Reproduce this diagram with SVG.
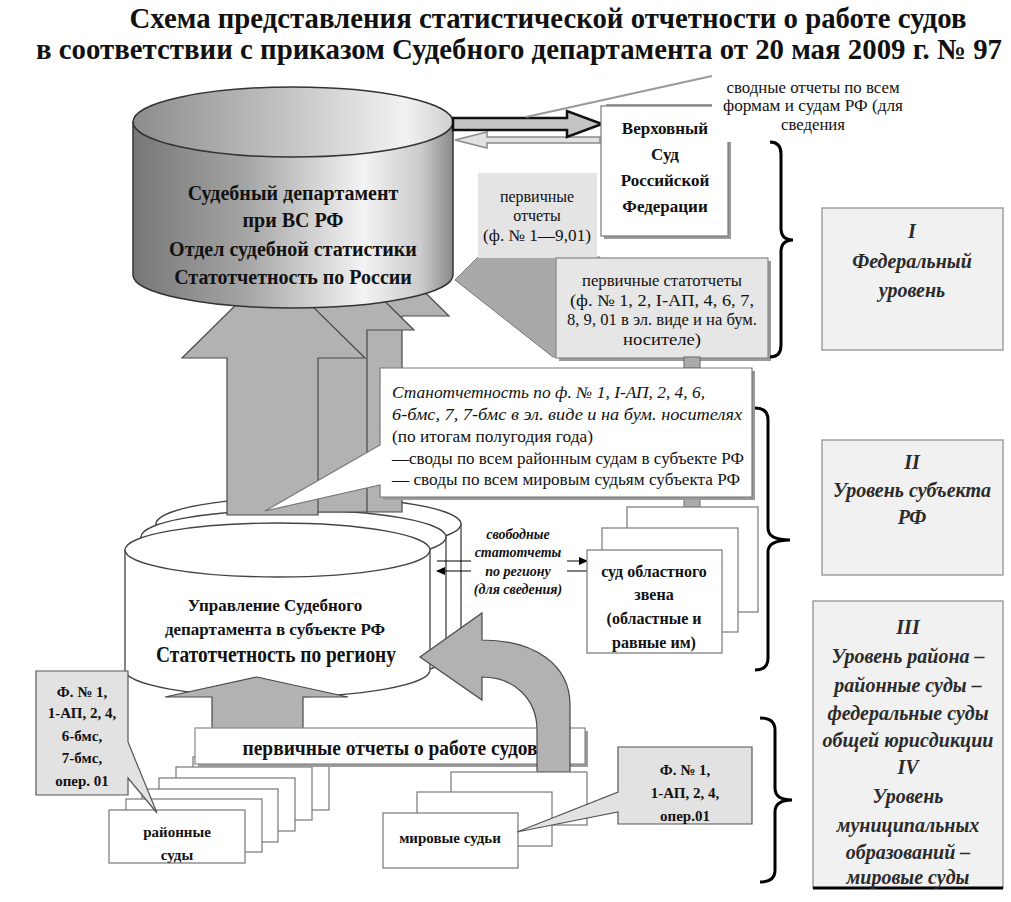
<svg xmlns="http://www.w3.org/2000/svg" width="1011" height="902" viewBox="0 0 1011 902" font-family="'Liberation Serif', 'Times New Roman', Tinos, 'DejaVu Serif', serif">
<defs>
<linearGradient id="gBody" x1="0" x2="1" y1="0" y2="0">
<stop offset="0" stop-color="#777"/><stop offset="0.35" stop-color="#a4a4a4"/><stop offset="0.72" stop-color="#f3f3f3"/><stop offset="0.9" stop-color="#cbcbcb"/><stop offset="1" stop-color="#8a8a8a"/>
</linearGradient>
<linearGradient id="gTop" x1="0" x2="1" y1="0" y2="0">
<stop offset="0" stop-color="#8c8c8c"/><stop offset="0.5" stop-color="#c6c6c6"/><stop offset="0.85" stop-color="#f2f2f2"/><stop offset="1" stop-color="#cfcfcf"/>
</linearGradient>
<marker id="ah" markerWidth="9" markerHeight="8" refX="8" refY="4" orient="auto" markerUnits="userSpaceOnUse"><path d="M0,0 L9,4 L0,8 Z" fill="#000"/></marker>
</defs>
<style>
text{font-family:'Liberation Serif','Times New Roman',Tinos,'DejaVu Serif',serif;fill:#111}
.b{font-weight:700}
.i{font-style:italic}
.c{text-anchor:middle}
.lvl{font-weight:700;font-style:italic;fill:#2b2b2b;font-size:20px;text-anchor:middle}
.box{fill:#fff;stroke:#777;stroke-width:1.2}
.grey{fill:#e2e2e2;stroke:#555;stroke-width:1.2}
.lbox{fill:#f1f1f1;stroke:#8a8a8a;stroke-width:1.2}
.arrow{fill:#b2b2b2;stroke:#4a4a4a;stroke-width:1.2}
.brace{fill:none;stroke:#000;stroke-width:3}
.shadow{fill:#9a9a9a}
.cyl{fill:#fff;stroke:#444;stroke-width:1.3}
</style>
<rect width="1011" height="902" fill="#fff"/>

<g id="title">
<text class="b c" x="548" y="28" font-size="29" textLength="837" lengthAdjust="spacingAndGlyphs">Схема представления статистической отчетности о работе судов</text>
<text class="b c" x="519" y="59" font-size="29" textLength="966" lengthAdjust="spacingAndGlyphs">в соответствии с приказом Судебного департамента от 20 мая 2009 г. № 97</text>
</g>

<g id="lower-cylinders">
<path class="cyl" d="M156,524 V644 A152.5,27 0 0 0 461,644 V524 Z"/>
<ellipse class="cyl" cx="308.5" cy="524" rx="152.5" ry="27"/>
<path class="cyl" d="M141,537 V657 A152.5,27 0 0 0 446,657 V537 Z"/>
<ellipse class="cyl" cx="293.5" cy="537" rx="152.5" ry="27"/>
</g>

<g id="connectors">
<polygon class="arrow" points="311,512 311,316 266,316 357.5,226 449,316 402,316 402,512"/>
<polygon class="arrow" points="276,512 276,330 231,330 322.5,240 414,330 367,330 367,512"/>
<polygon class="arrow" points="227,515 227,358 182,358 273.5,268 365,358 318,358 318,515"/>
<polygon fill="#a9a9a9" stroke="#777" stroke-width="1" points="478,257 600,257 600,357 553,357 455,280"/>
</g>

<g id="sd-cylinder">
<path d="M133,122 V275 A160,33 0 0 0 453,275 V122 Z" fill="url(#gBody)" stroke="#333" stroke-width="1.5"/>
<ellipse cx="293" cy="122" rx="160" ry="35" fill="url(#gTop)" stroke="#333" stroke-width="1.5"/>
<text class="b c" x="293" y="200" font-size="20">Судебный департамент</text>
<text class="b c" x="293" y="227" font-size="20">при ВС РФ</text>
<text class="b c" x="293" y="256" font-size="20">Отдел судебной статистики</text>
<text class="b c" x="293" y="284" font-size="20">Статотчетность по России</text>
</g>

<g id="top-arrows">
<path d="M600,137 H487 V132 L455,140 L487,148 V143 H600 Z" fill="#e2e2e2" stroke="#8a8a8a" stroke-width="1.5"/>
<path d="M453,118 H567 V111 L602,124 L567,137 V130 H453 Z" fill="#c4c4c4" stroke="#111" stroke-width="2.5"/>
<line x1="526" y1="117" x2="712" y2="76" stroke="#999" stroke-width="2"/>
<line x1="606" y1="105" x2="712" y2="105" stroke="#999" stroke-width="2"/>
</g>

<g id="supreme-court">
<rect x="604" y="109" width="127" height="130" class="shadow"/>
<rect x="601" y="106" width="127" height="130" class="box"/>
<text class="b c" x="665" y="134" font-size="17">Верховный</text>
<text class="b c" x="665" y="160" font-size="17">Суд</text>
<text class="b c" x="665" y="186" font-size="17">Российской</text>
<text class="b c" x="665" y="212" font-size="17">Федерации</text>
</g>

<g id="summary-label">
<rect x="712" y="74" width="200" height="68" fill="#fff"/>
<text class="c" x="813" y="93" font-size="16" textLength="173" lengthAdjust="spacingAndGlyphs">сводные отчеты по всем</text>
<text class="c" x="813" y="111" font-size="16" textLength="180" lengthAdjust="spacingAndGlyphs">формам и судам РФ (для</text>
<text class="c" x="813" y="130" font-size="16" textLength="64" lengthAdjust="spacingAndGlyphs">сведения</text>
</g>

<g id="primary-reports">
<rect x="478" y="173" width="119" height="85" fill="#e4e4e4"/>
<text class="c" x="537" y="202" font-size="16">первичные</text>
<text class="c" x="537" y="221" font-size="16">отчеты</text>
<text class="c" x="537" y="241" font-size="16" textLength="108" lengthAdjust="spacingAndGlyphs">(ф. № 1—9,01)</text>
</g>

<g id="primary-stat">
<rect x="559" y="261" width="212" height="100" class="shadow"/>
<rect x="556" y="258" width="212" height="100" fill="#e6e6e6" stroke="#888" stroke-width="1.2"/>
<text class="c" x="662" y="286" font-size="16" textLength="160" lengthAdjust="spacingAndGlyphs">первичные статотчеты</text>
<text class="c" x="662" y="306" font-size="16" textLength="184" lengthAdjust="spacingAndGlyphs">(ф. № 1, 2, I-АП, 4, 6, 7,</text>
<text class="c" x="662" y="325" font-size="16" textLength="190" lengthAdjust="spacingAndGlyphs">8, 9, 01 в эл. виде и на бум.</text>
<text class="c" x="662" y="345" font-size="16" textLength="78" lengthAdjust="spacingAndGlyphs">носителе)</text>
</g>

<g id="links">
<rect x="684" y="357" width="16" height="11" fill="#aaa" stroke="#666"/>
<rect x="684" y="497" width="16" height="11" fill="#aaa" stroke="#666"/>
</g>

<g id="region-callout">
<path class="shadow" d="M383,371 H755 V500 H383 Z"/>
<path d="M380,368 H752 V497 H380 V485 L265,511 L380,445 Z" fill="#fff" stroke="#777" stroke-width="1.2"/>
<text class="i" x="392" y="398" font-size="16" textLength="313" lengthAdjust="spacingAndGlyphs">Станотчетность по ф. № 1, I-АП, 2, 4, 6,</text>
<text class="i" x="392" y="420" font-size="16" textLength="350" lengthAdjust="spacingAndGlyphs">6-бмс, 7, 7-бмс в эл. виде и на бум. носителях</text>
<text x="392" y="442" font-size="16" textLength="201" lengthAdjust="spacingAndGlyphs">(по итогам полугодия года)</text>
<text x="392" y="464" font-size="16" textLength="352" lengthAdjust="spacingAndGlyphs">—своды по всем районным судам в субъекте РФ</text>
<text x="392" y="485" font-size="16" textLength="348" lengthAdjust="spacingAndGlyphs">— своды по всем мировым судьям субъекта РФ</text>
</g>

<g id="regional-cylinder">
<path class="cyl" d="M125,550 V670 A152.5,27 0 0 0 430,670 V550 Z"/>
<ellipse class="cyl" cx="277.5" cy="550" rx="152.5" ry="27"/>
<text class="b c" x="275" y="611" font-size="17">Управление Судебного</text>
<text class="b c" x="275" y="635" font-size="17">департамента в субъекте РФ</text>
<text class="b c" x="276" y="662" font-size="23" textLength="240" lengthAdjust="spacingAndGlyphs">Статотчетность по региону</text>
</g>

<g id="exchange-arrows">
<line x1="437" y1="561" x2="587" y2="561" stroke="#000" stroke-width="1.2" marker-end="url(#ah)"/>
<line x1="587" y1="571" x2="437" y2="571" stroke="#000" stroke-width="1.2" marker-end="url(#ah)"/>
<rect x="471" y="524" width="96" height="74" fill="#fff"/>
<text class="b i c" x="518" y="539" font-size="14">свободные</text>
<text class="b i c" x="518" y="557" font-size="14">статотчеты</text>
<text class="b i c" x="518" y="576" font-size="14">по региону</text>
<text class="b i c" x="518" y="594" font-size="14">(для сведения)</text>
</g>

<g id="regional-courts">
<rect x="627" y="507" width="131" height="105" class="box"/>
<rect x="602" y="528" width="136" height="104" class="box"/>
<rect x="587" y="550" width="135" height="103" class="box"/>
<text class="b c" x="654" y="577" font-size="16">суд областного</text>
<text class="b c" x="654" y="600" font-size="16">звена</text>
<text class="b c" x="654" y="624" font-size="16">(областные и</text>
<text class="b c" x="654" y="648" font-size="16">равные им)</text>
</g>

<g id="district-courts">
<rect x="193" y="757" width="136" height="53" class="box"/>
<rect x="176" y="767" width="136" height="53" class="box"/>
<rect x="159" y="778" width="136" height="53" class="box"/>
<rect x="142" y="789" width="136" height="53" class="box"/>
<rect x="126" y="799" width="136" height="53" class="box"/>
<rect x="109" y="810" width="136" height="53" class="box"/>
<text class="b c" x="177" y="837" font-size="15">районные</text>
<text class="b c" x="177" y="860" font-size="15">суды</text>
</g>

<g id="up-arrow">
<polygon class="arrow" points="212,730 212,697 165,697 257,677 348,697 303,697 303,730"/>
</g>

<g id="banner">
<rect x="198" y="731" width="390" height="36" class="shadow"/>
<rect x="195" y="728" width="390" height="36" fill="#fff" stroke="#888" stroke-width="1.2"/>
<text class="b c" x="390" y="755" font-size="21" textLength="295" lengthAdjust="spacingAndGlyphs">первичные отчеты о работе судов</text>
</g>

<g id="curved-arrow">
<path class="arrow" d="M570,772 V705 C570,665 535,640 482,640 V613 L420,657 L482,700 V677 C515,677 537,700 537,730 V772 Z"/>
</g>

<g id="magistrates">
<rect x="451" y="772" width="136" height="53" class="box"/>
<rect x="417" y="792" width="135" height="54" class="box"/>
<rect x="383" y="813" width="135" height="55" class="box"/>
<text class="b c" x="450" y="843" font-size="15">мировые судьи</text>
</g>

<g id="forms-district">
<path class="grey" d="M36,671 H128 V742 L157,813 L128,778 V795 H36 Z"/>
<text class="b c" x="82" y="697" font-size="15">Ф. № 1,</text>
<text class="b c" x="82" y="718" font-size="15">1-АП, 2, 4,</text>
<text class="b c" x="82" y="741" font-size="15">6-бмс,</text>
<text class="b c" x="82" y="763" font-size="15">7-бмс,</text>
<text class="b c" x="82" y="786" font-size="15">опер. 01</text>
</g>

<g id="forms-magistrates">
<path class="grey" d="M618,747 H752 V824 H618 V812 L517,832 L618,792 Z"/>
<text class="b c" x="685" y="775" font-size="15">Ф. № 1,</text>
<text class="b c" x="685" y="798" font-size="15">1-АП, 2, 4,</text>
<text class="b c" x="685" y="821" font-size="15">опер.01</text>
</g>

<g id="braces">
<path class="brace" d="M770,142 Q781,142 781,154 L781,228 Q781,240 793,240 Q781,240 781,252 L781,345 Q781,357 770,357"/>
<path class="brace" d="M755,408 Q768,408 768,420 L768,528 Q768,540 790,540 Q768,540 768,552 L768,658 Q768,670 755,670"/>
<path class="brace" d="M760,718 Q775,718 775,730 L775,788 Q775,800 792,800 Q775,800 775,812 L775,870 Q775,882 760,882"/>
</g>

<g id="level-1">
<rect x="822" y="208" width="181" height="142" class="lbox"/>
<text class="lvl" x="912" y="238">I</text>
<text class="lvl" x="912" y="268">Федеральный</text>
<text class="lvl" x="912" y="297">уровень</text>
</g>

<g id="level-2">
<rect x="822" y="440" width="181" height="135" class="lbox"/>
<text class="lvl" x="912" y="469">II</text>
<text class="lvl" x="912" y="497">Уровень субъекта</text>
<text class="lvl" x="912" y="524">РФ</text>
</g>

<g id="level-3-4">
<rect x="813" y="601" width="190" height="287" class="lbox"/>
<line x1="813" y1="888" x2="1003" y2="888" stroke="#000" stroke-width="3"/>
<text class="lvl" x="908" y="634">III</text>
<text class="lvl" x="908" y="663">Уровень района –</text>
<text class="lvl" x="908" y="692">районные суды –</text>
<text class="lvl" x="908" y="720">федеральные суды</text>
<text class="lvl" x="908" y="747">общей юрисдикции</text>
<text class="lvl" x="908" y="774">IV</text>
<text class="lvl" x="908" y="803">Уровень</text>
<text class="lvl" x="908" y="832">муниципальных</text>
<text class="lvl" x="908" y="859">образований –</text>
<text class="lvl" x="908" y="884">мировые суды</text>
</g>
</svg>
